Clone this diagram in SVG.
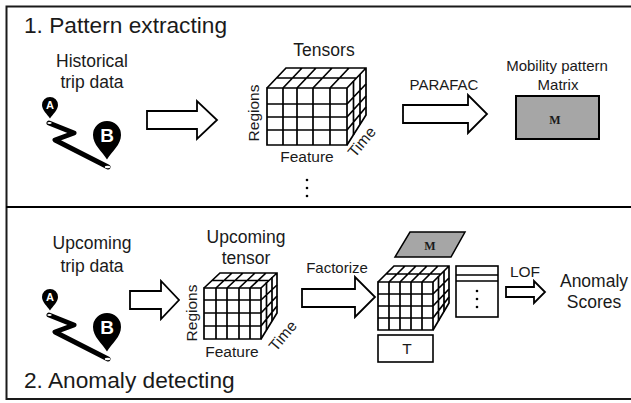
<svg xmlns="http://www.w3.org/2000/svg" xmlns:xlink="http://www.w3.org/1999/xlink" width="631" height="403" viewBox="0 0 631 403">
<style>
text{font-family:"Liberation Sans",Arial,sans-serif;fill:#1a1a1a;text-anchor:middle}
.s{font-size:15.500px}.m{font-size:17.500px}.p{font-size:15px}.h{font-size:22.700px;text-anchor:start}
.l{fill:none;stroke:#000;stroke-width:1.700}
.a{fill:#fff;stroke:#000;stroke-width:1.800;stroke-linejoin:miter}
.g{fill:#a6a6a6;stroke:#000;stroke-width:2}
.f{fill:#fff;stroke:#000;stroke-width:1.600}
.mm{font-family:"Liberation Serif",serif;font-weight:bold;font-size:12px}
.la{font-weight:bold;font-size:11px;fill:#fff}
.lb{font-weight:bold;font-size:19px;fill:#fff}
.route{fill:none;stroke:#000;stroke-width:5;stroke-linejoin:round;stroke-linecap:round}
</style>
<defs>
<g id="trip">
<path class="route" d="M49 123L74 133L55 140L108 167"/>
<ellipse cx="49.500" cy="123" rx="2.200" ry="1.100" fill="#fff"/>
<ellipse cx="107.500" cy="167" rx="2.800" ry="1.300" fill="#fff"/>
<path d="M50 118.500C47 114 42 110 42 105A8 8 0 0 1 58 105C58 110 53 114 50 118.500Z" fill="#000"/>
<path d="M107 159.500C102 151 93 145 93 135A14 14 0 0 1 121 135C121 145 112 151 107 159.500Z" fill="#000"/>
</g>
</defs>
<g id="frame">
<path d="M631 6.500H6.500V399H631" fill="none" stroke="#1a1a1a" stroke-width="2"/>
<path d="M6 207H631" stroke="#000" stroke-width="2"/>
</g>
<g id="connectors">
<path class="a" d="M147 111H197V101L217 120L197 139V129H147Z"/>
<path class="a" d="M403 105H468V95L487 114L468 133V123H403Z"/>
<path class="a" d="M130 291H161V281L179 300L161 319V309H130Z"/>
<path class="a" d="M302 289H355V277L375 297L355 317V307H302Z"/>
<path class="a" d="M506 287H534V281L545 292L534 303V297H506Z"/>
</g>
<g id="title1"><text class="h" x="24" y="33">1. Pattern extracting</text></g>
<g id="title2"><text class="h" x="24" y="388">2. Anomaly detecting</text></g>
<g id="historical">
<text class="m" x="92" y="67">Historical</text>
<text class="m" x="92" y="88">trip data</text>
<use xlink:href="#trip" href="#trip"/>
<text class="la" x="50" y="109">A</text>
<text class="lb" x="107" y="142">B</text>
</g>
<g id="tensors">
<text class="m" x="324" y="56">Tensors</text>
<path class="l" d="M267 88H347V145H267ZM283 88V145M297 88V145M313 88V145M330 88V145M267 104H347M267 117H347M267 130H347"/>
<path class="l" d="M267 88L286 68H366V115L347 145M347 88L366 68M283 88L302 68M297 88L316 68M313 88L332 68M330 88L349 68M276.500 78H356.500"/>
<path class="l" d="M353.500 81V135M360 74V124.500M347 104L366 84M347 117L366 96M347 130L366 107"/>
<text class="s" transform="translate(254 113) rotate(-90)" y="5">Regions</text>
<text class="s" x="307" y="162">Feature</text>
<text class="s" transform="translate(362 142) rotate(-50)" y="5">Time</text>
<g fill="#000"><circle cx="307" cy="180" r="1.300"/><circle cx="307" cy="188" r="1.300"/><circle cx="307" cy="196" r="1.300"/></g>
</g>
<g id="parafac"><text class="p" x="444" y="90">PARAFAC</text></g>
<g id="matrix">
<text class="p" x="557" y="71">Mobility pattern</text>
<text class="p" x="558" y="90">Matrix</text>
<rect class="g" x="516" y="96" width="83" height="43"/>
<text class="mm" x="555" y="124">M</text>
</g>
<g id="upcoming">
<text class="m" x="92" y="249">Upcoming</text>
<text class="m" x="92" y="272">trip data</text>
<use xlink:href="#trip" href="#trip" y="192"/>
<text class="la" x="50" y="301">A</text>
<text class="lb" x="107" y="334">B</text>
</g>
<g id="tensor2">
<text class="m" x="246" y="243">Upcoming</text>
<text class="m" x="246" y="264">tensor</text>
<path class="l" d="M204 288H261V339H204ZM216 288V339M227 288V339M239 288V339M250 288V339M204 300H261M204 313H261M204 326H261"/>
<path class="l" d="M204 288L220 273H277V313L261 339M261 288L277 273M216 288L232 273M227 288L243 273M239 288L255 273M250 288L266 273M212 280.500H269"/>
<path class="l" d="M266.500 282V330M272 277V321M261 300L277 285M261 313L277 296M261 326L277 306"/>
<text class="s" transform="translate(192 313) rotate(-90)" y="5">Regions</text>
<text class="s" x="232" y="357">Feature</text>
<text class="s" transform="translate(283 336) rotate(-50)" y="5">Time</text>
</g>
<g id="factorize"><text class="p" x="337" y="273">Factorize</text></g>
<g id="m2">
<path class="g" style="stroke-width:1.500" d="M410 232H465L451 257H395Z"/>
<text class="mm" x="430" y="250">M</text>
</g>
<g id="tensor3">
<path class="l" d="M378 282H433V330H378ZM389 282V330M400 282V330M411 282V330M422 282V330M378 294H433M378 306H433M378 318H433"/>
<path class="l" d="M378 282L394 266H449V303L433 330M433 282L449 266M389 282L405 266M400 282L416 266M411 282L427 266M422 282L438 266M386 274H441"/>
<path class="l" d="M438.500 276V321M444 271V312M433 294L449 278M433 306L449 289M433 318L449 297"/>
</g>
<g id="t"><rect class="f" x="378" y="335" width="55" height="27"/><text class="s" x="407" y="354">T</text></g>
<g id="list">
<rect class="f" x="456" y="266" width="42" height="51"/>
<path class="l" d="M456 275H498M456 281H498"/>
<g fill="#000"><circle cx="477" cy="291" r="1.300"/><circle cx="477" cy="299" r="1.300"/><circle cx="477" cy="307" r="1.300"/></g>
</g>
<g id="lof"><text class="s" x="525" y="277">LOF</text></g>
<g id="scores">
<text class="m" x="594" y="287">Anomaly</text>
<text class="m" x="594" y="308">Scores</text>
</g>
</svg>
